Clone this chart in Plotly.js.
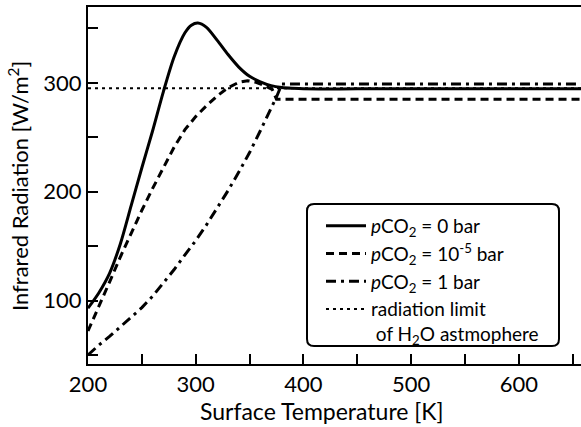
<!DOCTYPE html>
<html>
<head>
<meta charset="utf-8">
<script src="https://cdn.plot.ly/plotly-3.0.1.min.js"></script>
<style>html,body{margin:0;padding:0;background:#fff;}#chart{width:581px;height:427px;}</style>
</head>
<body>
<div id="chart"></div>
<script>
// Surface temperature [K] and outgoing infrared radiation [W/m^2]
const tempCO2zero = [200, 210, 220, 230, 240, 250, 260, 270, 280, 290, 296, 302, 310, 320, 330, 340, 350, 360, 370, 380, 390, 400, 450, 500, 550, 600, 660];
const irCO2zero   = [93, 107, 125, 152, 187, 222, 256, 292, 324, 346, 353, 355, 351, 339, 326, 314.5, 306, 301, 297.5, 295.8, 295, 294.5, 294.5, 294.5, 294.5, 294.5, 294.5];

const tempCO2low = [200, 210, 220, 230, 240, 250, 260, 270, 280, 290, 300, 310, 320, 330, 340, 348, 356, 364, 371, 375, 380, 660];
const irCO2low   = [72, 94, 117, 140, 162, 183, 203, 222, 241, 257, 269, 279, 288, 295.5, 300.5, 302, 300.5, 297.5, 294, 285, 285, 285];

const tempCO2high = [200, 210, 220, 230, 240, 250, 260, 270, 280, 290, 300, 310, 320, 330, 340, 350, 360, 370, 375, 380, 660];
const irCO2high   = [50, 59, 67, 76, 84.5, 93.5, 104, 116, 128.5, 142, 155, 169.5, 185, 201, 218, 236, 256, 276, 287, 299, 299];

const tempLimit = [200, 660];
const irLimit   = [295, 295];

const seriesNames = [
  '<i>p</i>CO<sub>2</sub> = 0 bar',
  '<i>p</i>CO<sub>2</sub> = 10<sup>-5</sup> bar',
  '<i>p</i>CO<sub>2</sub> = 1 bar',
  'radiation limit<br>&nbsp;of H<sub>2</sub>O astmophere'
];

const xTickVals = [200, 300, 400, 500, 600];
const xTickText = ['200', '300', '400', '500', '600'];
const yTickVals = [100, 200, 300];
const yTickText = ['100', '200', '300'];

const xTitle = 'Surface Temperature [K]';
const yTitle = 'Infrared Radiation [W/m<sup>2</sup>]';

const FONT = 'Lato, "Open Sans", sans-serif';
const W = 581, H = 427;
const M = {l: 88, r: 0, t: 7, b: 63};
const pw = W - M.l - M.r, ph = H - M.t - M.b;
function px2paperX(p) { return (p - M.l) / pw; }
function px2paperY(p) { return (H - M.b - p) / ph; }

const traces = [
  {x: tempCO2zero, y: irCO2zero, name: seriesNames[0], mode: 'lines', line: {color: '#000', width: 3, shape: 'spline', smoothing: 0.8}},
  {x: tempCO2low, y: irCO2low, name: seriesNames[1], mode: 'lines', line: {color: '#000', width: 3, dash: '8px,5px'}},
  {x: tempCO2high, y: irCO2high, name: seriesNames[2], mode: 'lines', line: {color: '#000', width: 3, dash: '10px,5px,3px,5px'}},
  {x: tempLimit, y: irLimit, name: seriesNames[3], mode: 'lines', line: {color: '#000', width: 2, dash: '3px,4px'}}
];
traces.forEach((t, i) => { t.hoverinfo = 'skip'; t.legendrank = i + 1; });
// draw limit line beneath the curves
const ordered = [traces[3], traces[0], traces[1], traces[2]];

// rounded legend frame (pixel box converted to paper coords)
const bx0 = px2paperX(307), bx1 = px2paperX(559), by0 = px2paperY(346), by1 = px2paperY(204);
const rx = 7 / pw, ry = 7 / ph;
const framePath = `M ${bx0 + rx} ${by1} L ${bx1 - rx} ${by1} Q ${bx1} ${by1} ${bx1} ${by1 - ry} ` +
  `L ${bx1} ${by0 + ry} Q ${bx1} ${by0} ${bx1 - rx} ${by0} L ${bx0 + rx} ${by0} Q ${bx0} ${by0} ${bx0} ${by0 + ry} ` +
  `L ${bx0} ${by1 - ry} Q ${bx0} ${by1} ${bx0 + rx} ${by1} Z`;

const minorTicks = {ticks: 'inside', ticklen: 10, tickwidth: 2, tickcolor: '#000', dtick: 50, showgrid: false};
const axisCommon = {
  showline: true, linecolor: '#000', linewidth: 2,
  ticks: 'inside', ticklen: 10, tickwidth: 2, tickcolor: '#000',
  showgrid: false, zeroline: false, tickmode: 'array',
  tickfont: {family: FONT, size: 22, color: '#000'},
  minor: minorTicks
};

const layout = {
  width: W, height: H,
  margin: M,
  paper_bgcolor: '#fff', plot_bgcolor: '#fff',
  font: {family: FONT, color: '#000'},
  showlegend: true,
  xaxis: Object.assign({}, axisCommon, {range: [200, 657.7], tickvals: xTickVals, ticktext: xTickText, mirror: true}),
  yaxis: Object.assign({}, axisCommon, {range: [41.7, 369.7], tickvals: yTickVals, ticktext: yTickText}),
  legend: {
    x: px2paperX(321), y: px2paperY(207), xanchor: 'left', yanchor: 'top',
    bgcolor: 'rgba(0,0,0,0)', borderwidth: 0,
    font: {family: FONT, size: 19, color: '#000'},
    traceorder: 'normal', itemwidth: 40, valign: 'top'
  },
  shapes: [{type: 'path', xref: 'paper', yref: 'paper', path: framePath,
    line: {color: '#000', width: 2}, fillcolor: '#fff', layer: 'above'}],
  annotations: [
    {text: xTitle, xref: 'paper', yref: 'paper', x: px2paperX(322), y: px2paperY(411), xanchor: 'center', yanchor: 'middle',
     showarrow: false, font: {family: FONT, size: 23, color: '#000'}},
    {text: yTitle, xref: 'paper', yref: 'paper', x: px2paperX(18), y: px2paperY(186), xanchor: 'center', yanchor: 'middle',
     textangle: -90, showarrow: false, font: {family: FONT, size: 22, color: '#000'}}
  ]
};

Plotly.newPlot('chart', ordered, layout, {staticPlot: true, displayModeBar: false});
</script>
</body>
</html>
